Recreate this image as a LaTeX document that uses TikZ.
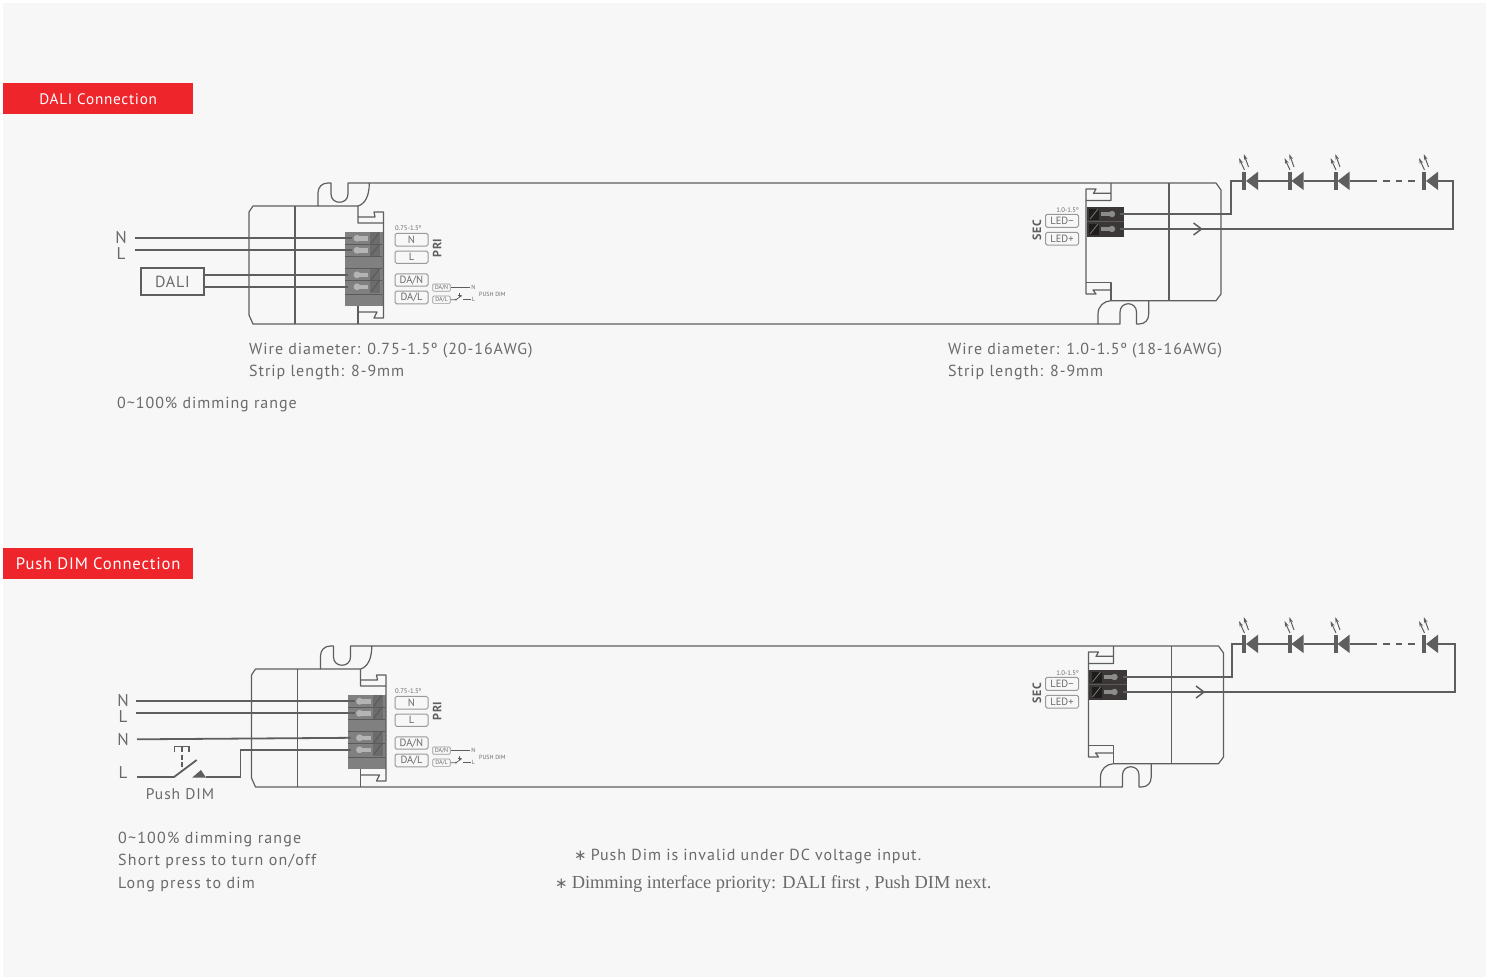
\documentclass[tikz,border=0pt]{standalone}
\usepackage{fontspec}
\setmainfont{PT Sans}
\newfontfamily\din[LetterSpace=6]{PT Sans}
\newfontfamily\dinb[LetterSpace=5]{PT Sans}
\newfontfamily\dinc[LetterSpace=7.3]{PT Sans}
\newfontfamily\dinbold[LetterSpace=3]{PT Sans Bold}
\newfontfamily\srf{Liberation Serif}
\newfontfamily\symf{DejaVu Sans}
\definecolor{bgc}{HTML}{F7F7F7}
\definecolor{redc}{HTML}{EE262C}
\definecolor{linec}{HTML}{5E5E5E}
\definecolor{txtc}{HTML}{6A6A6A}
\definecolor{blockc}{HTML}{808080}
\definecolor{blockd}{HTML}{5A5A5A}
\definecolor{blockp}{HTML}{6C6C6C}
\definecolor{pinc}{HTML}{B4B4B4}
\definecolor{darkb}{HTML}{3B3737}
\definecolor{darkd}{HTML}{1F1C1C}
\definecolor{pind}{HTML}{8C8C8C}
\newcommand{\fs}[1]{\fontsize{#1}{#1}\selectfont}
\usetikzlibrary{arrows.meta}
\tikzset{
  outl/.style={draw=linec,line width=1.2pt,line join=round},
  wire/.style={draw=linec,line width=1.8pt},
  thinw/.style={draw=linec,line width=.7pt},
  pinbox/.style={draw=gray!80,line width=1pt,rounded corners=1.6pt,fill=none},
  banner/.style={fill=redc,text=white,font=\dinb\fs{15.2},inner sep=0pt,minimum width=190pt,minimum height=31pt},
  bodyt/.style={text=txtc,font=\din\fs{16},anchor=base west,inner sep=0pt},
  bodyc/.style={bodyt,font=\dinc\fs{16}},
  labt/.style={text=txtc,font=\fs{17},inner sep=0pt},
  tinyt/.style={text=txtc,font=\fs{6.7},inner sep=0pt},
  smallt/.style={text=txtc,font=\fs{6},inner sep=0pt},
  boxt/.style={text=txtc,font=\fs{10.5},inner sep=0pt},
  boldt/.style={text=linec,font=\dinbold\fs{12},inner sep=0pt,rotate=90},
}
% driver body; #1 prefix, #2 dx, #3 dy
\newcommand{\driver}[3]{%
\begin{scope}[shift={(#2,#3)}]
  % terminal block
  \fill[blockc] (345,232) rectangle (383,306);
  \foreach \y in {238.3,250.3,274.8,286.8}{
    \fill[blockp] (370,\y-6) rectangle (380,\y+6);
    \draw[blockd,line width=1pt] (371,\y+5) -- (379,\y-5.5);
    \fill[pinc] (357,\y) circle (3.4);
    \fill[pinc] (357,\y-2.2) rectangle (368,\y+2.2);
  }
  \foreach \y in {244.3,256.7,268.5,280.7,294.3}{\draw[blockd,line width=.9pt] (345,\y) -- (382,\y);}
  % left cap
  \draw[outl] (358,206) -- (253,206) -- (249,212) -- (249,315) -- (253,324) -- (1098,324);
  \draw[outl] (295,206) -- (295,324);
  % top ear
  \draw[outl] (318,206) -- (318,193) .. controls (318,187) and (322,183) .. (328,183) -- (331,183)
     -- (331,194) .. controls (331,205) and (348,205) .. (348,194) -- (348,183) -- (369.3,183)
     .. controls (369.3,196) and (365,204) .. (358,206);
  \draw[outl] (369.3,183) -- (1216,183) -- (1221,190) -- (1221,294) -- (1216,300.7) -- (1111,300.7);
  % primary hooks
  \draw[outl] (358,206) -- (358,223) -- (383.5,223) -- (383.5,212) -- (374,212) -- (375,217) -- (358,217);
  \draw[outl] (383.5,223) -- (383.5,318) -- (374,318) -- (377,312) -- (358,312);
  \draw[outl] (358,306) -- (358,324);
  % secondary hooks
  \draw[outl] (1111,183) -- (1111,200.5) -- (1086,200.5) -- (1086,189) -- (1096,189) -- (1093.5,193.3) -- (1111,193.3);
  \draw[outl] (1086,200.5) -- (1086,294) -- (1096,294) -- (1093,290) -- (1111,290);
  \draw[outl] (1086,282.5) -- (1111,282.5) -- (1111,300.7);
  \draw[outl] (1169,183) -- (1169,300.7);
  % bottom ear
  \draw[outl] (1098,324) -- (1098,314) .. controls (1098,306) and (1104,301) .. (1111,300.7);
  \draw[outl] (1098,324) -- (1120,324) -- (1120,312) .. controls (1120,301) and (1136.5,301) .. (1136.5,312)
     -- (1136.5,324) -- (1139,324) .. controls (1145,324) and (1148.7,320) .. (1148.7,314) -- (1148.7,300.7);
  % secondary terminal
  \fill[darkb] (1086.7,206.7) rectangle (1124,236.7);
  \draw[blockd,line width=.8pt] (1086.7,221.7) -- (1124,221.7);
  \foreach \y in {214,229}{
    \fill[darkd] (1089,\y-5.5) rectangle (1099,\y+5.5);
    \draw[blockd!80,line width=.8pt] (1090,\y+5) -- (1098,\y-5);
    \fill[pind] (1112,\y) circle (3.2);
    \fill[pind] (1101,\y-2.4) rectangle (1112,\y+2.4);
  }
  % named terminals and chevron
  \coordinate (#1t1) at (352,238.3);
  \coordinate (#1t2) at (352,250.3);
  \coordinate (#1t3) at (348,274.8);
  \coordinate (#1t4) at (348,286.8);
  \coordinate (#1s1) at (1120,214);
  \coordinate (#1s2) at (1120,229);
  \draw[linec,line width=1.5pt,line join=miter] (1193.5,223) -- (1201.5,229) -- (1193.5,235);
\end{scope}}
% pin legends; #1 dy
\newcommand{\legends}[1]{%
\begin{scope}[yshift=-#1pt]
  \node[tinyt,anchor=west] (l1) at (395,228.5) {0.75-1.5º};
  \node[pinbox,minimum width=33pt,minimum height=12.7pt,inner sep=0pt] (l2) at (411.5,239.7) {};
  \node[boxt] at (l2) {N};
  \node[pinbox,minimum width=33pt,minimum height=12.3pt,inner sep=0pt] (l3) at (411.5,257.2) {};
  \node[boxt] at (l3) {L};
  \node[pinbox,minimum width=33pt,minimum height=12.3pt,inner sep=0pt] (l4) at (411.5,280) {};
  \node[boxt] at (l4) {DA/N};
  \node[pinbox,minimum width=33pt,minimum height=12.7pt,inner sep=0pt] (l5) at (411.5,297.4) {};
  \node[boxt] at (l5) {DA/L};
  \node[boldt] at (437,248) {PRI};
  \node[pinbox,rounded corners=1pt,line width=.7pt,minimum width=17.5pt,minimum height=7.3pt,inner sep=0pt] (l6) at (441.5,287.6) {};
  \node[smallt] at (l6) {DA/N};
  \node[pinbox,rounded corners=1pt,line width=.7pt,minimum width=17.5pt,minimum height=7.3pt,inner sep=0pt] (l7) at (441.5,299.7) {};
  \node[smallt] at (l7) {DA/L};
  \node[smallt] (l8) at (473.5,287.6) {N};
  \node[smallt] (l9) at (473.5,299.7) {L};
  \node[smallt,anchor=west] at (479,294) {PUSH DIM};
  \draw[thinw] (l6.east) -- ([xshift=-1pt]l8.west);
  \draw[thinw] (l7.east) -- (456,299.7) -- (462,295.5);
  \draw[thinw] (463,299.7) -- ([xshift=-1pt]l9.west);
  \draw[thinw] (457.5,295) -- (461,295) (459,293.2) -- (459,297);
  \fill[linec] (456,299.7) circle (1);
  % secondary
  \node[tinyt,anchor=east] at (1079,210.3) {1.0-1.5º};
  \node[pinbox,minimum width=33pt,minimum height=13pt,inner sep=0pt] (r1) at (1062,220.8) {};
  \node[boxt] at (r1) {LED−};
  \node[pinbox,minimum width=33pt,minimum height=12.7pt,inner sep=0pt] (r2) at (1062,238.7) {};
  \node[boxt] at (r2) {LED+};
  \node[boldt] at (1037,230) {SEC};
\end{scope}}
% LED; #1 name, #2 x of bar, #3 y
\newcommand{\ledd}[3]{%
  \coordinate (#1a) at (#2-2,#3);
  \coordinate (#1b) at (#2+14,#3);
  \fill[linec] (#2-2,#3-9.3) rectangle (#2+2,#3+9);
  \fill[linec] (#2+2,#3) -- (#2+14,#3-9.3) -- (#2+14,#3+9) -- cycle;
  \draw[linec,line width=1pt,-{Stealth[length=6pt,width=3.6pt]}] (#2+.5,#3-11) -- (#2-5,#3-23);
  \draw[linec,line width=1pt,-{Stealth[length=6pt,width=3.6pt]}] (#2+4.5,#3-14) -- (#2-.2,#3-27);
}
% LED chain; #1 prefix, #2 y of chain, #3 x of left riser, #4 driver prefix, #5 x of right return
\newcommand{\ledchain}[5]{%
  \ledd{#1a}{1244}{#2}\ledd{#1b}{1289.5}{#2}\ledd{#1c}{1335.5}{#2}\ledd{#1d}{1424}{#2}
  \coordinate (#1l) at (#3,#2);
  \coordinate (#1e) at (1377,#2);
  \coordinate (#1f) at (1417,#2);
  \coordinate (#1g) at (#5,#2);
  \draw[wire] (#4s1) -| (#1l) -- (#1aa);
  \draw[wire] (#1ab) -- (#1ba) (#1bb) -- (#1ca) (#1cb) -- (#1e);
  \draw[wire,dash pattern=on 6.5pt off 6pt] (1383,#2) -- (#1f);
  \draw[wire] (#1db) -- (#1g) |- (#4s2);
}
\begin{document}
\begin{tikzpicture}[x=1pt,y=-1pt]
\useasboundingbox (0,0) rectangle (1486,978);
\fill[white] (0,0) rectangle (1486,978);
\fill[bgc] (3,3) rectangle (1486,976.5);
\node[banner,anchor=north west] (b1) at (3,83) {DALI Connection};
\node[banner,anchor=north west,font=\dinb\fs{16.6}] (b2) at (3,548) {Push DIM Connection};

% ---------- DALI panel
\driver{a}{0}{0}
\legends{0}
\node[labt] (an) at (121,238) {N};
\node[labt] (al) at (121,254) {L};
\node[draw=linec,line width=1.3pt,labt,font=\dinb\fs{16},minimum width=63pt,minimum height=27pt] (dali) at (172.5,281.5) {DALI};
\coordinate (aw1) at (135,238.3);
\coordinate (aw2) at (135,250.3);
\draw[wire] (aw1) -- (at1);
\draw[wire] (aw2) -- (at2);
\draw[wire] (dali.east |- at3) -- (at3);
\draw[wire] (dali.east |- at4) -- (at4);
\node[bodyt] at (249,354.8) {Wire diameter: 0.75-1.5º (20-16AWG)};
\node[bodyt] at (249,376.2) {Strip length: 8-9mm};
\node[bodyt] at (117,408) {0\textasciitilde100\% dimming range};
\node[bodyt] at (948,354.8) {Wire diameter: 1.0-1.5º (18-16AWG)};
\node[bodyt] at (948,376.2) {Strip length: 8-9mm};
\ledchain{p}{181}{1231}{a}{1453}

% ---------- Push DIM panel
\driver{c}{2.5}{463}
\legends{463}
\node[labt] (cn1) at (123,701) {N};
\node[labt] (cl1) at (123,716.5) {L};
\node[labt] (cn2) at (123,739.5) {N};
\node[labt] (cl2) at (123,772.5) {L};
\coordinate (cw1) at (136,701.3);
\coordinate (cw2) at (136,713.3);
\coordinate (cw3) at (137,739.3);
\coordinate (cw4) at (137,777);
\coordinate (sa) at (174,777);
\coordinate (sb) at (196.7,760);
\coordinate (sc) at (206,777);
\coordinate (sd) at (240.5,777);
\draw[wire] (cw1) -- (ct1);
\draw[wire] (cw2) -- (ct2);
\draw[wire] (cw3) -- (ct3);
\draw[wire] (cw4) -- (sa) -- (sb);
\draw[wire] (sc) -- (sd) |- (ct4);
\fill[linec] (192.3,777.5) -- (201,770) -- (206,777.5) -- cycle;
\draw[linec,line width=1.6pt,dash pattern=on 5pt off 2.5pt] (181.7,747) -- (181.7,770);
\draw[linec,line width=1.6pt] (174.5,751.5) -- (174.5,746.5) -- (189,746.5) -- (189,751.5);
\node[labt,font=\din\fs{15.5},anchor=base] (pd) at (180,799) {Push DIM};
\node[bodyc] at (118,843.5) {0\textasciitilde100\% dimming range};
\node[bodyc] at (118,865) {Short press to turn on/off};
\node[bodyc] at (118,888.3) {Long press to dim};
\node[bodyt] at (574,860) {{\symf\fs{15}∗}\hspace{4pt}Push Dim is invalid under DC voltage input.};
\node[bodyt,font=\srf\fs{18.4}] at (555,888) {{\symf\fs{15}∗}\hspace{4pt}Dimming interface priority: DALI first , Push DIM next.};
\ledchain{q}{644}{1232}{c}{1455}
\end{tikzpicture}
\end{document}
